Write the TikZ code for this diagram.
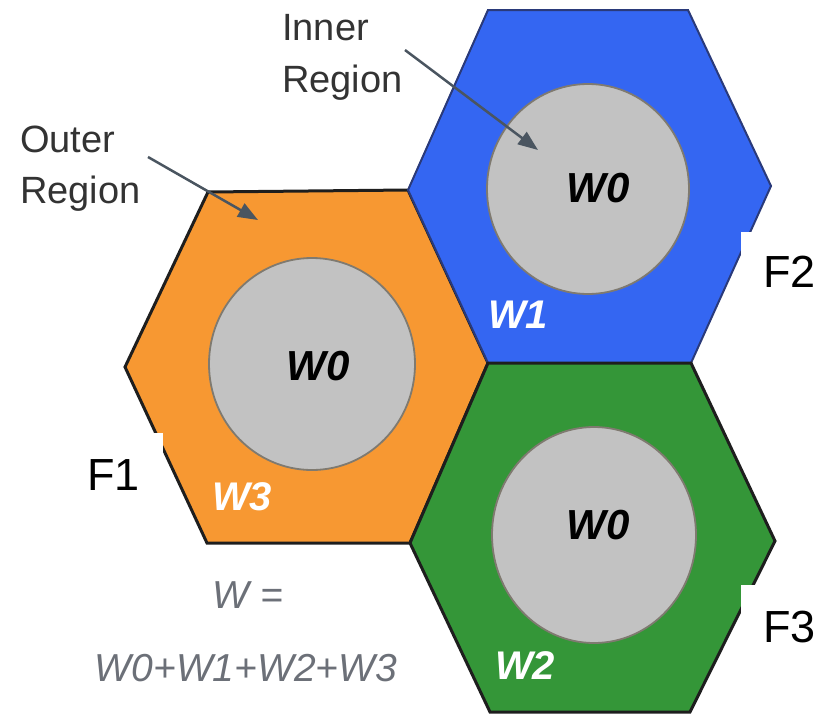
\documentclass[tikz,border=0pt]{standalone}
\usepackage{fontspec}
\setmainfont{Liberation Sans}
\usetikzlibrary{arrows.meta,shapes.geometric}
\definecolor{horange}{HTML}{F79832}
\definecolor{hblue}{HTML}{3466F2}
\definecolor{hgreen}{HTML}{349638}
\definecolor{innergray}{HTML}{C2C2C2}
\definecolor{circedge}{HTML}{7F7A70}
\definecolor{labgray}{HTML}{333333}
\definecolor{formgray}{HTML}{6C7078}
\definecolor{arrowgray}{HTML}{4A5560}
\definecolor{hedge}{HTML}{1E1E1E}
\definecolor{bedge}{HTML}{2A3A7A}
\begin{document}
\begin{tikzpicture}[x=1pt,y=-1pt,
  hexo/.style={draw=hedge, line width=3pt, line join=miter},
  innerc/.style={draw=circedge, line width=1.8pt, fill=innergray, ellipse, inner sep=0pt},
  wz/.style={font=\fontsize{42}{42}\selectfont\bfseries\itshape, inner sep=0pt},
  wlab/.style={font=\fontsize{40}{40}\selectfont\bfseries\itshape, text=white, inner sep=0pt},
  lab/.style={font=\fontsize{38}{38}\selectfont, text=labgray, inner sep=0pt, anchor=base west},
  flab/.style={font=\fontsize{45}{45}\selectfont, text=black, inner sep=0pt, anchor=base west},
  form/.style={font=\fontsize{39}{39}\selectfont\itshape, text=formgray, inner sep=0pt},
  arr/.style={draw=arrowgray, line width=2.5pt, -{Triangle[length=20pt,width=15pt]}}]
\useasboundingbox (0,0) rectangle (825,715);
% shared vertices
\coordinate (ctr) at (488,363);
\coordinate (oL) at (125,367);
\coordinate (oTL) at (208,192);
\coordinate (oTR) at (408,190);
\coordinate (oBR) at (410,543);
\coordinate (oBL) at (207,543);
\coordinate (bTL) at (488,10);
\coordinate (bTR) at (688,10);
\coordinate (bR) at (771,186);
\coordinate (bBR) at (691,363);
\coordinate (gR) at (775,541);
\coordinate (gBR) at (690,712);
\coordinate (gBL) at (490,712);
% hexagons
\filldraw[hexo, fill=horange] (oL) -- (oTL) -- (oTR) -- (ctr) -- (oBR) -- (oBL) -- cycle;
\filldraw[hexo, fill=hblue, draw=bedge, line width=2pt] (oTR) -- (bTL) -- (bTR) -- (bR) -- (bBR) -- (ctr) -- cycle;
\filldraw[hexo, fill=hgreen] (ctr) -- (bBR) -- (gR) -- (gBR) -- (gBL) -- (oBR) -- cycle;
% inner regions
\node[innerc, minimum width=206pt, minimum height=212pt] (c1) at (312,364) {};
\node[innerc, minimum width=202pt, minimum height=210pt] (c2) at (588,189) {};
\node[innerc, minimum width=204pt, minimum height=216pt] (c3) at (594,535) {};
\node[wz] (w0a) at (318,366) {W0};
\node[wz] (w0b) at (598,188) {W0};
\node[wz] (w0c) at (598,525) {W0};
\node[wlab] (w3) at (242,497) {W3};
\node[wlab] (w1) at (518,315) {W1};
\node[wlab] (w2) at (525,666) {W2};
% labels and arrows
\node[lab] (outer1) at (20,152) {Outer};
\node[lab] (outer2) at (20,203) {Region};
\node[lab] (inner1) at (282,40) {Inner};
\node[lab] (inner2) at (282,92) {Region};
\coordinate (oa1) at (148,157);
\coordinate (oa2) at (258,220);
\coordinate (ia1) at (405,50);
\coordinate (ia2) at (538,150);
\draw[arr] (oa1) -- (oa2);
\draw[arr] (ia1) -- (ia2);
% formula
\node[form] (weq) at (248,595) {W =};
\node[form] (wsum) at (246,668) {W0+W1+W2+W3};
% F labels with white boxes
\fill[white] (741,232) rectangle (825,330);
\fill[white] (741,585) rectangle (825,680);
\fill[white] (60,433) rectangle (163,520);
\node[flab] (f2) at (763,287) {F2};
\node[flab] (f3) at (763,642) {F3};
\node[flab] (f1) at (87,490) {F1};
\end{tikzpicture}
\end{document}
